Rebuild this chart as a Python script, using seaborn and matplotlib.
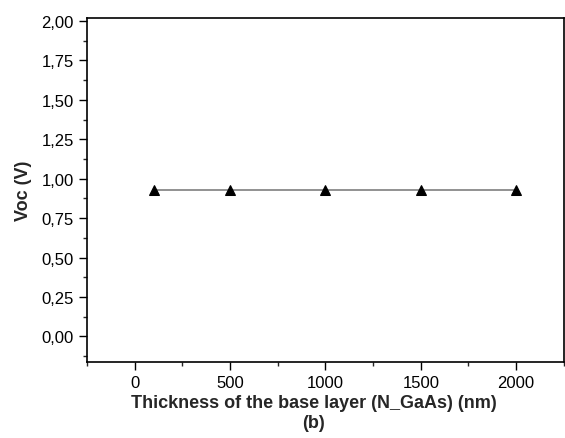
import numpy as np
import pandas as pd
import seaborn as sns
import matplotlib
matplotlib.use("Agg")
import matplotlib.pyplot as plt
from matplotlib.ticker import FuncFormatter, MultipleLocator

sns.set_style("ticks")
plt.rcParams["font.family"] = ["Liberation Sans", "DejaVu Sans"]

# data
thickness = [100, 500, 1000, 1500, 2000]
voc = [0.93, 0.93, 0.93, 0.93, 0.93]

df = pd.DataFrame({"thickness": thickness, "voc": voc})

fig = plt.figure(figsize=(5.65, 4.39), dpi=100)
ax = fig.add_axes([0.154, 0.174, 0.844, 0.783])

sns.lineplot(data=df, x="thickness", y="voc", ax=ax, color="#7f7f7f", linewidth=1.2,
             marker="^", markersize=6.5, markerfacecolor="black", markeredgecolor="black")

ax.set_xlim(-250, 2250)
ax.set_ylim(-0.16, 2.02)
ax.xaxis.set_major_locator(MultipleLocator(500))
ax.xaxis.set_minor_locator(MultipleLocator(250))
ax.yaxis.set_major_locator(MultipleLocator(0.25))
ax.yaxis.set_minor_locator(MultipleLocator(0.125))
ax.yaxis.set_major_formatter(FuncFormatter(lambda v, p: f"{v:.2f}".replace(".", ",")))
ax.tick_params(which="major", direction="out", length=5.5, width=1, labelsize=12,
               colors="black", pad=4)
ax.tick_params(which="minor", direction="out", length=3, width=1)
for s in ax.spines.values():
    s.set_linewidth(1.2)
    s.set_color("black")

ax.set_xlabel("Thickness of the base layer (N_GaAs) (nm)\n(b)", fontsize=13, fontweight="bold",
              linespacing=1.3)
ax.xaxis.set_label_coords(0.476, -0.093, transform=ax.transAxes)
ax.xaxis.label.set_va("top")
ax.set_ylabel("Voc (V)", fontsize=13, fontweight="bold", labelpad=7)

fig.savefig("out.png", dpi=100)
